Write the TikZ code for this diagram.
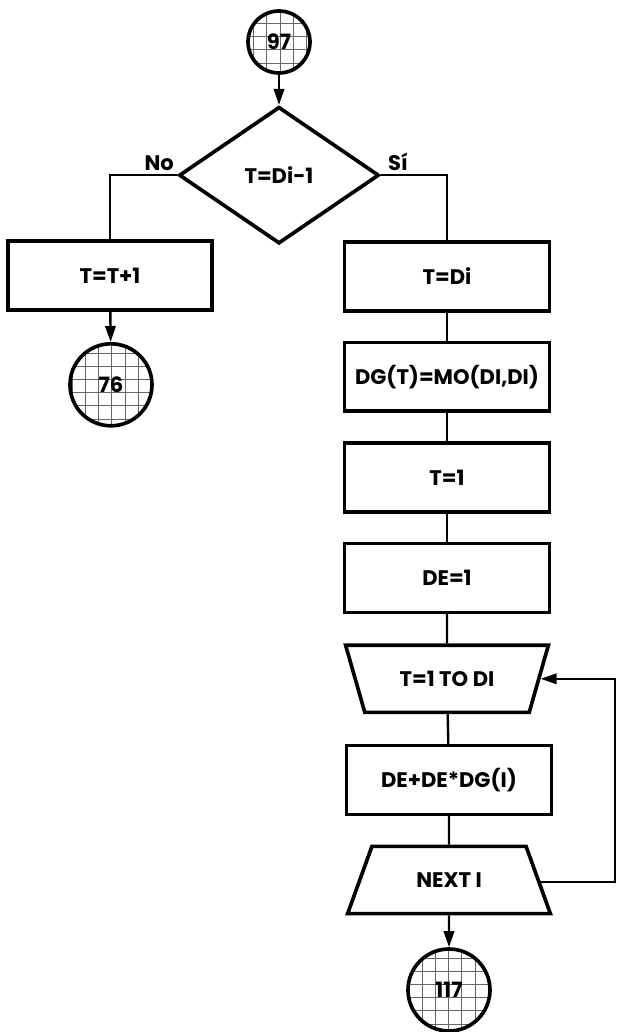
\documentclass[tikz,border=0pt]{standalone}
\usepackage{fontspec}
\setmainfont{Poppins}
\usepackage{tikz}
\usetikzlibrary{shapes.geometric,arrows.meta,positioning}

\begin{document}
\begin{tikzpicture}[
    every node/.style={font=\fontsize{15}{17}\selectfont\bfseries},
    flowline/.style={line width=1.7pt},
    flowarrow/.style={line width=1.7pt,-{Triangle[length=0.4cm,width=0.26cm]}},
    procbox/.style={draw,line width=2.6pt,rectangle,minimum width=5.12cm,minimum height=1.72cm},
    decbox/.style={draw,line width=2.6pt,diamond,minimum width=5cm,minimum height=3.42cm,inner sep=0pt},
    loopbox/.style={draw,line width=2.6pt,trapezium,trapezium stretches=true,
        trapezium left angle=64,trapezium right angle=64,minimum width=5.1cm,minimum height=1.68cm},
    connector/.style={draw,line width=2.6pt,circle,inner sep=0pt,
        path picture={\draw[black!60,line width=0.7pt]
            (path picture bounding box.south west) grid[step=0.33cm]
            (path picture bounding box.north east);}},
]
    \useasboundingbox (0,0) rectangle (15.425,-25.8);

    % entry connector and decision
    \node[connector,minimum size=1.55cm] (c97) at (6.975,-1.05) {97};
    \node[decbox] (dec) at (6.975,-4.38) {T=Di-1};

    % no branch
    \node[procbox,minimum width=5.1cm] (inc) at (2.75,-6.89) {T=T+1};
    \node[connector,minimum size=2.05cm] (c76) at (2.775,-9.62) {76};

    % yes branch
    \node[procbox] (tdi) at (11.175,-6.91) {T=Di};
    \node[procbox] (dg) at (11.175,-9.42) {DG(T)=MO(DI,DI)};
    \node[procbox] (tone) at (11.175,-11.94) {T=1};
    \node[procbox] (deone) at (11.175,-14.45) {DE=1};
    \node[loopbox,shape border rotate=180] (forloop) at (11.175,-16.97) {T=1 TO DI};
    \node[procbox] (demul) at (11.225,-19.5) {DE+DE*DG(I)};
    \node[loopbox] (nexti) at (11.225,-22) {NEXT I};
    \node[connector,minimum size=2.05cm] (c117) at (11.225,-24.75) {117};

    % labels of the decision
    \node[above=0pt] (nolbl) at (3.98,-4.38) {No};
    \node[above=0pt] (silbl) at (9.95,-4.38) {Sí};

    % connectors
    \draw[flowarrow] (c97) -- (dec);
    \draw[flowline] (dec.west) -| (inc.north);
    \draw[flowline] (dec.east) -| (tdi.north);
    \draw[flowarrow] (inc) -- (c76);
    \draw[flowline] (tdi) -- (dg);
    \draw[flowline] (dg) -- (tone);
    \draw[flowline] (tone) -- (deone);
    \draw[flowline] (deone) -- (forloop);
    \draw[flowline] (forloop) -- (demul);
    \draw[flowline] (demul) -- (nexti);
    \draw[flowarrow] (nexti) -- (c117);

    % loop back
    \coordinate (back) at (15.375,-22.05);
    \draw[flowarrow] (nexti.east |- back) -- (back) |- (forloop.east);
\end{tikzpicture}
\end{document}
